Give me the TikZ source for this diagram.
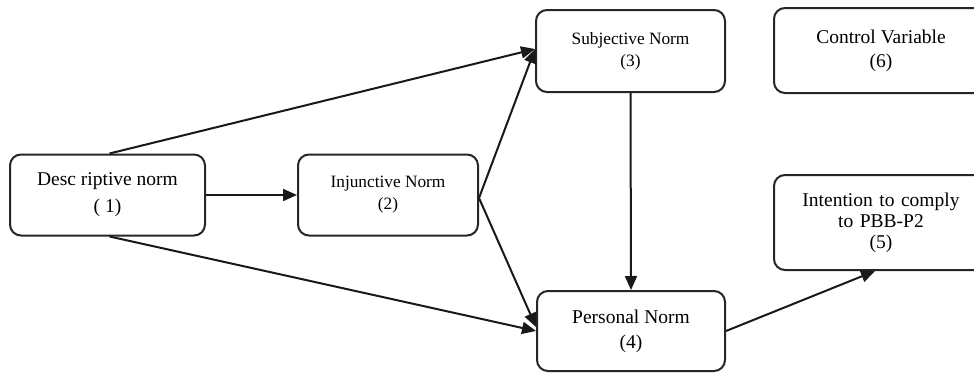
\documentclass[tikz,border=0pt]{standalone}
\usepackage{fontspec}
\setmainfont{Liberation Serif}
\usetikzlibrary{arrows.meta}
\begin{document}
\begin{tikzpicture}[x=1pt,y=-1pt,
  normbox/.style={draw=black!85, line width=2pt, rounded corners=11pt,
    align=center, inner sep=0pt},
  bigtext/.style={font=\fontsize{19.5}{24}\selectfont},
  smalltext/.style={font=\fontsize{17.3}{22}\selectfont},
  arr/.style={draw=black!90, line width=2pt,
    -{Triangle[length=14pt,width=12pt]}}]
\useasboundingbox[fill=white] (0,0) rectangle (974,372);

% norm boxes (width/height follow the layout grid)
\node[normbox, bigtext, minimum width=195pt, minimum height=81pt,
  font=\fontsize{19.5}{27}\selectfont] (desc) at (107.5,195)
  {Desc riptive norm\\( 1)};
\node[normbox, smalltext, minimum width=180pt, minimum height=81pt] (inj)
  at (388,195) {Injunctive Norm\\(2)};
\node[normbox, smalltext, minimum width=189pt, minimum height=82pt] (subj)
  at (630.5,51) {Subjective Norm\\(3)};
\node[normbox, bigtext, minimum width=188pt, minimum height=80pt,
  font=\fontsize{19.5}{25}\selectfont] (pers) at (631,331)
  {Personal Norm\\(4)};
\node[normbox, bigtext, minimum width=214pt, minimum height=95pt,
  font=\fontsize{19.5}{21}\selectfont, text width=200pt] (intent)
  at (881,222.5) {Intention to comply\\to PBB-P2\\(5)};
\node[normbox, bigtext, minimum width=214pt, minimum height=85pt] (ctrl)
  at (881,50.5) {Control Variable\\(6)};

% paths between the norms
\draw[arr] (desc.east) -- (inj.west);
\draw[arr] ([xshift=2pt]desc.north) -- ([yshift=2pt]subj.west);
\draw[arr] ([xshift=2pt]desc.south) -- (pers.west);
\draw[arr] ([yshift=-3pt]inj.east) -- ([yshift=2pt]subj.west);
\draw[arr] ([yshift=-3pt]inj.east) -- ([yshift=4pt]pers.west);
\draw[arr] (subj.south) -- (pers.north);
\draw[arr] (pers.east) -- ([xshift=-6pt]intent.south);
\end{tikzpicture}
\end{document}
